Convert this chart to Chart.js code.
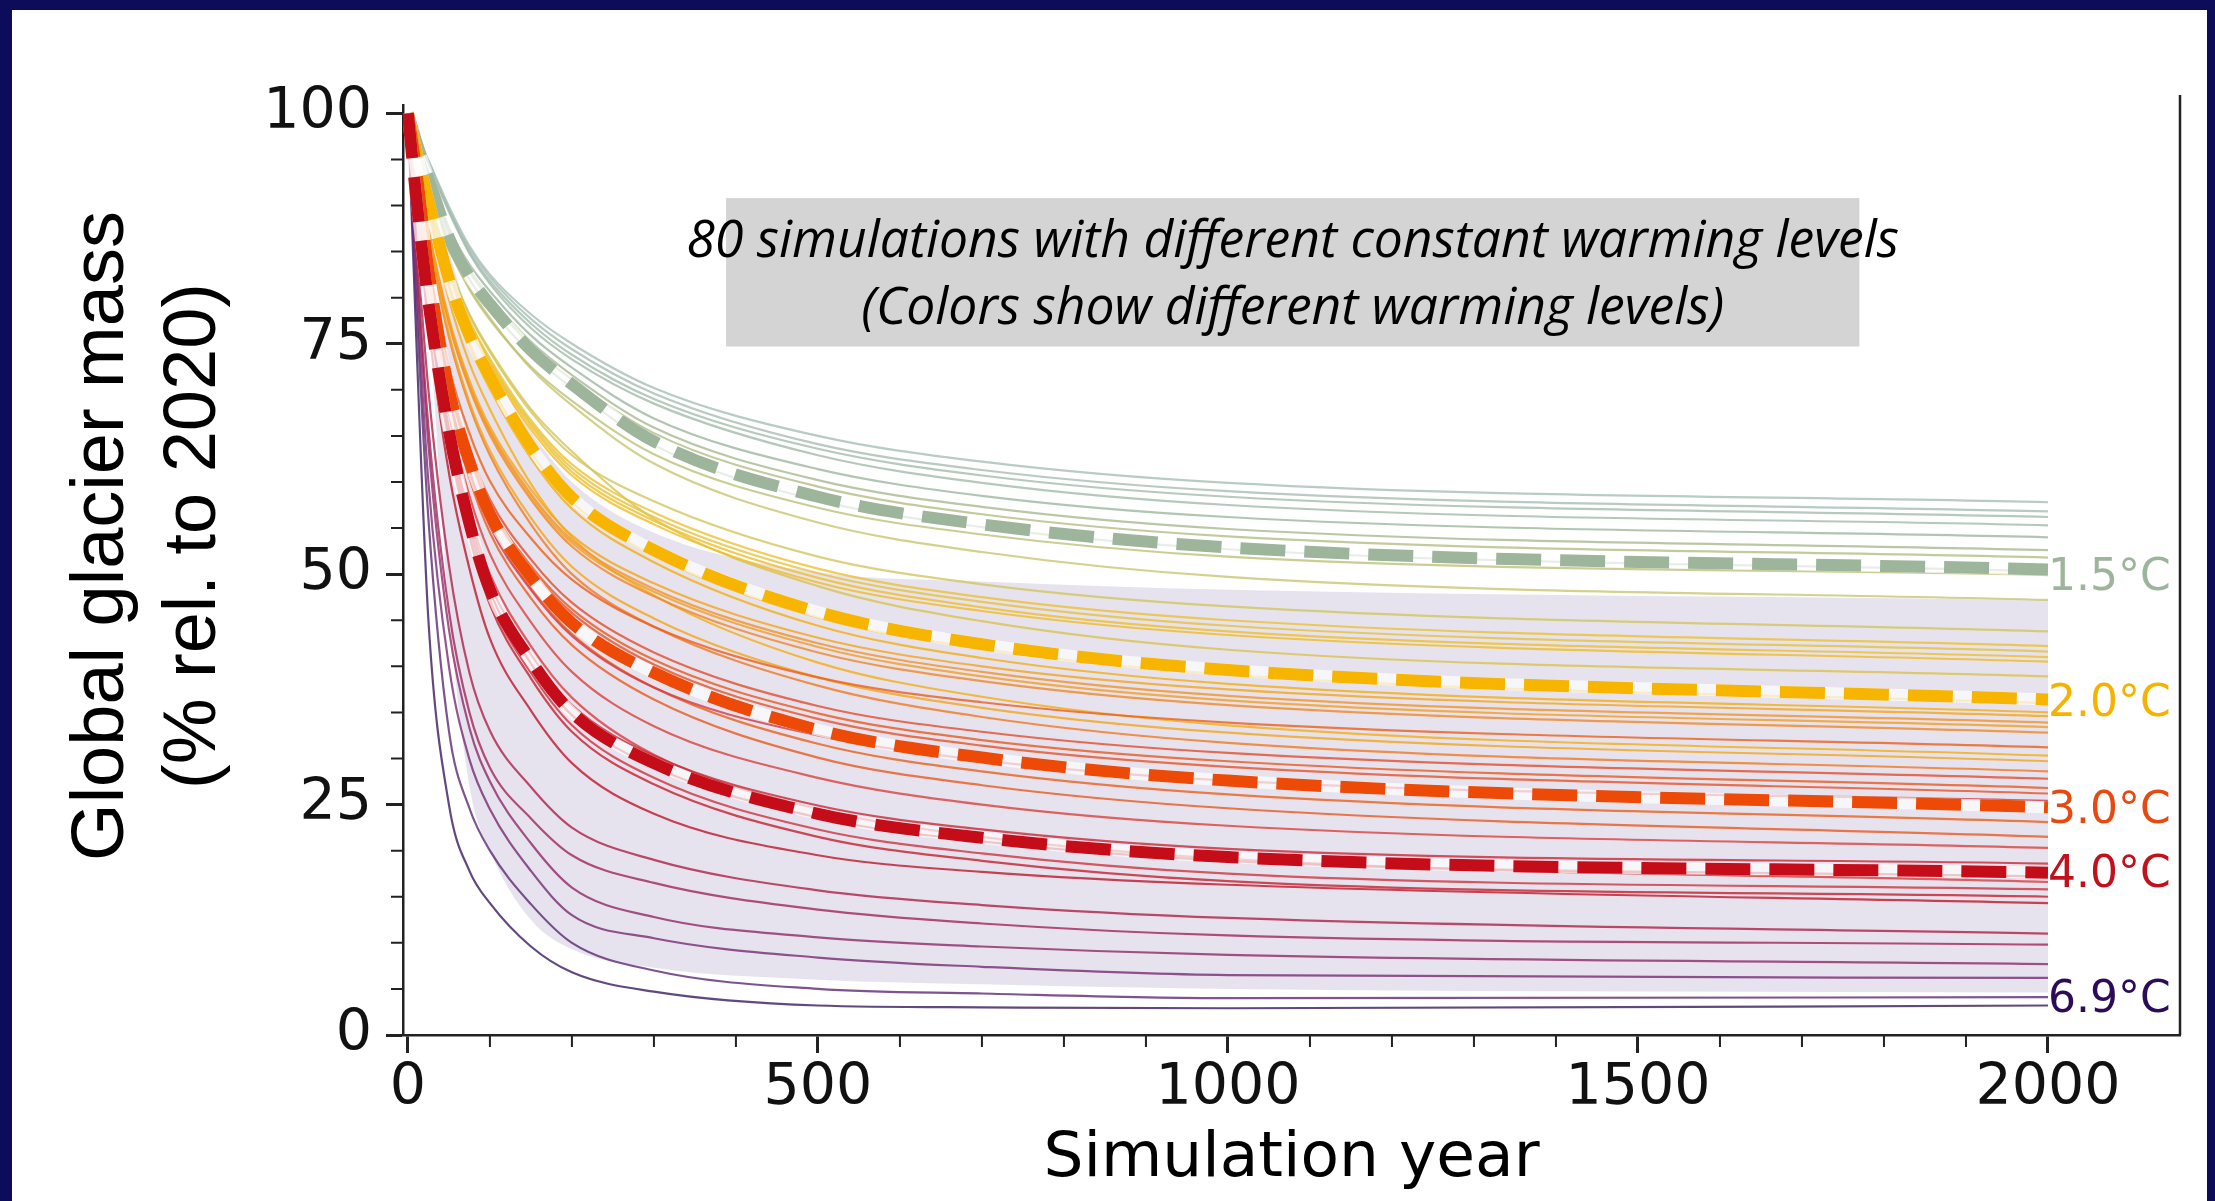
<!DOCTYPE html>
<html>
<head>
<meta charset="utf-8">
<title>Global glacier mass</title>
<script src="https://cdn.jsdelivr.net/npm/chart.js@4.4.0/dist/chart.umd.min.js"></script>
<style>
  html, body { margin: 0; background: #fff; width: 2215px; height: 1201px; overflow: hidden; }
  .bar { position: absolute; background: #0c0c5a; }
  #top { left: 0; top: 0; width: 2215px; height: 10px; }
  #left { left: 0; top: 0; width: 12px; height: 1400px; }
  #right { left: 2207px; top: 0; width: 8px; height: 1400px; }
  #panel { position: absolute; left: 12px; top: 10px; width: 2195px; height: 1191px; }
  canvas { display: block; }
</style>
</head>
<body>
<div class="bar" id="top"></div>
<div class="bar" id="left"></div>
<div class="bar" id="right"></div>
<div id="panel"><canvas id="myChart" width="2195" height="1191"></canvas></div>
<script>
// sample years the curves were read at
const years = [0, 10, 25, 50, 75, 100, 150, 200, 300, 500, 700, 1000, 2000]

// thin lines: warming level of each run and its glacier mass (% of 2020)
const warming = [1.2, 1.25, 1.3, 1.35, 1.45, 1.55, 1.6, 1.5, 1.65, 1.7,
  1.75, 1.9, 1.85, 1.95, 2.0, 1.8, 2.1, 2.2, 2.3, 2.5,
  2.4, 2.6, 2.9, 2.2, 2.3, 2.7, 3.2, 3.0, 3.1, 3.7,
  2.9, 3.0, 3.5, 3.9, 4.1, 3.6, 3.8, 4.0, 4.2, 4.6,
  4.9, 5.3, 5.8, 6.3, 6.9]

const runs = [
  [100, 97.9, 94.9, 89.9, 85.6, 82.5, 78.2, 75.0, 70.2, 65.0, 62.2, 59.9, 57.8],
  [100, 97.8, 94.8, 89.6, 85.3, 82.2, 77.7, 74.4, 69.6, 64.1, 61.3, 59.0, 56.8],
  [100, 97.8, 94.7, 89.5, 85.0, 81.8, 77.2, 73.8, 69.0, 63.6, 60.7, 58.4, 56.2],
  [100, 97.8, 94.6, 89.3, 84.8, 81.5, 76.7, 73.3, 68.5, 62.9, 59.9, 57.5, 55.3],
  [100, 97.2, 93.6, 87.6, 83.6, 80.7, 75.9, 72.4, 66.9, 61.4, 58.5, 56.2, 54.0],
  [100, 97.2, 93.4, 87.2, 83.1, 80.1, 75.2, 71.6, 65.9, 60.2, 57.3, 54.9, 52.6],
  [100, 97.1, 93.3, 87.0, 82.8, 79.8, 74.8, 71.1, 65.3, 59.5, 56.5, 54.1, 51.8],
  [100, 96.8, 92.8, 86.2, 82.0, 78.9, 73.9, 70.2, 64.0, 58.0, 55.1, 52.7, 50.3],
  [100, 96.6, 92.2, 85.4, 80.9, 77.6, 72.5, 68.8, 63.0, 57.2, 54.3, 51.9, 49.9],
  [100, 96.8, 92.6, 85.7, 81.1, 77.8, 72.3, 68.3, 62.0, 55.6, 52.4, 49.7, 47.2],
  [100, 96.3, 91.6, 83.7, 78.1, 74.1, 67.6, 62.9, 57.9, 51.9, 48.9, 46.5, 43.8],
  [100, 96.2, 91.3, 83.2, 77.5, 73.4, 66.7, 61.9, 56.7, 50.6, 47.5, 45.0, 42.2],
  [100, 96.2, 91.2, 83.1, 77.3, 73.1, 66.4, 61.5, 56.2, 50.1, 47.0, 44.4, 41.6],
  [100, 96.2, 91.2, 82.9, 77.1, 72.9, 66.1, 61.1, 55.8, 49.6, 46.4, 43.8, 41.0],
  [100, 96.1, 91.1, 82.7, 76.8, 72.6, 65.7, 60.7, 55.4, 49.1, 46.0, 43.4, 40.5],
  [100, 96.3, 91.4, 83.5, 78.2, 74.3, 67.9, 63.3, 56.0, 48.7, 44.9, 41.8, 38.9],
  [100, 95.8, 90.4, 81.4, 75.1, 70.6, 63.2, 57.8, 52.0, 45.3, 41.9, 39.1, 36.0],
  [100, 95.8, 90.3, 81.2, 74.8, 70.1, 62.6, 57.1, 51.3, 44.4, 40.9, 38.1, 35.0],
  [100, 95.4, 87.6, 77.8, 71.0, 66.0, 59.2, 54.2, 49.0, 43.1, 40.0, 37.5, 34.6],
  [100, 95.4, 87.4, 77.5, 70.6, 65.6, 58.7, 53.7, 48.4, 42.5, 39.4, 36.8, 33.9],
  [100, 95.3, 87.3, 77.4, 70.4, 65.4, 58.4, 53.4, 48.1, 42.1, 38.9, 36.3, 33.4],
  [100, 95.3, 87.2, 77.2, 70.2, 65.1, 58.1, 53.0, 47.6, 41.5, 38.4, 35.8, 32.8],
  [100, 94.5, 84.2, 72.5, 65.3, 60.1, 53.9, 49.4, 44.3, 38.8, 36.1, 33.9, 31.2],
  [100, 95.5, 89.5, 79.8, 72.9, 67.9, 59.8, 54.0, 47.7, 40.4, 36.7, 33.6, 30.3],
  [100, 95.1, 86.6, 76.1, 68.7, 63.4, 56.1, 50.8, 45.2, 38.8, 35.5, 32.8, 29.7],
  [100, 95.0, 86.4, 75.7, 68.3, 62.9, 55.4, 50.0, 44.3, 37.9, 34.5, 31.7, 28.6],
  [100, 94.2, 83.4, 71.1, 63.6, 58.1, 51.6, 46.9, 41.5, 35.7, 32.9, 30.6, 27.8],
  [100, 94.1, 83.2, 70.7, 63.0, 57.5, 50.9, 46.2, 40.7, 34.9, 32.0, 29.7, 26.8],
  [100, 94.1, 83.0, 70.5, 62.8, 57.2, 50.6, 45.8, 40.2, 34.3, 31.4, 29.1, 26.2],
  [100, 92.9, 82.1, 69.4, 61.2, 55.2, 48.3, 43.3, 37.7, 32.5, 29.8, 27.6, 25.4],
  [100, 93.8, 82.3, 69.2, 61.2, 55.4, 48.5, 43.5, 37.7, 31.6, 28.6, 26.1, 23.1],
  [100, 93.7, 81.9, 68.6, 60.4, 54.5, 47.4, 42.3, 36.4, 30.1, 27.1, 24.6, 21.5],
  [100, 92.4, 80.9, 67.3, 58.5, 52.2, 44.8, 39.4, 33.5, 27.9, 25.0, 22.7, 20.3],
  [100, 91.0, 79.7, 65.8, 56.1, 49.0, 41.3, 35.8, 30.3, 24.9, 22.3, 20.2, 18.6],
  [100, 90.9, 79.3, 65.2, 55.3, 48.1, 40.3, 34.7, 29.1, 23.6, 21.0, 18.9, 17.2],
  [100, 92.1, 80.0, 65.8, 56.6, 50.0, 42.2, 36.6, 30.4, 24.5, 21.5, 19.1, 16.6],
  [100, 90.7, 79.0, 64.6, 54.5, 47.2, 39.3, 33.6, 27.9, 22.3, 19.7, 17.5, 15.8],
  [100, 90.7, 78.8, 64.3, 54.1, 46.7, 38.7, 32.9, 27.2, 21.5, 18.9, 16.7, 15.0],
  [100, 90.0, 77.0, 61.0, 50.6, 43.0, 35.2, 29.5, 24.0, 19.5, 17.7, 16.3, 14.3],
  [100, 87.0, 70.0, 51.0, 39.3, 33.0, 26.9, 22.5, 19.0, 15.7, 14.1, 12.7, 11.0],
  [100, 85.0, 66.0, 46.0, 35.0, 29.0, 23.5, 19.5, 16.5, 13.6, 12.1, 10.8, 9.8],
  [100, 84.0, 64.0, 44.0, 33.3, 27.5, 20.8, 16.0, 12.8, 10.6, 9.6, 8.7, 7.7],
  [100, 82.0, 60.0, 40.0, 29.9, 24.5, 17.8, 13.0, 10.5, 8.4, 7.4, 6.5, 6.2],
  [100, 80.0, 56.0, 33.0, 24.6, 20.0, 14.2, 10.0, 7.0, 5.0, 4.5, 4.0, 4.1],
  [100, 76.0, 45.0, 25.0, 17.8, 14.3, 9.6, 6.8, 4.7, 3.2, 3.0, 2.9, 3.2]
]

// thick dashed lines
const dashedNames = ['1.5°C', '2.0°C', '3.0°C', '4.0°C']
const dashed15 = [100, 97.0, 93.0, 86.5, 82.3, 79.3, 74.3, 70.6, 64.4, 58.4, 55.4, 52.9, 50.5]
const dashed20 = [100, 96.0, 90.5, 82.0, 75.9, 71.4, 63.8, 58.3, 52.6, 45.9, 42.4, 39.6, 36.4]
const dashed30 = [100, 94.0, 83.0, 70.0, 62.2, 56.5, 49.7, 44.7, 39.3, 33.1, 30.1, 27.6, 24.7]
const dashed40 = [100, 91.0, 79.5, 65.5, 55.5, 48.3, 40.6, 35.0, 29.5, 24.0, 21.4, 19.3, 17.6]

// shaded range
const bandUpper = [100, 97.0, 93.0, 85.0, 78.0, 73.0, 65.5, 60.0, 54.5, 50.2, 49.2, 48.3, 47.2]
const bandLower = [100, 92.0, 78.0, 46.0, 27.0, 20.0, 12.5, 9.3, 7.3, 6.0, 5.5, 5.0, 4.6]

// labels at the right end of the lines
const endLabels = ['1.5°C', '2.0°C', '3.0°C', '4.0°C', '6.9°C']
const endLabelValues = [49.5, 35.8, 24.2, 17.3, 3.7]

const xTicks = [0, 500, 1000, 1500, 2000]
const yTicks = [0, 25, 50, 75, 100]

const noteLines = ['80 simulations with different constant warming levels', '(Colors show different warming levels)']

const dashedColors = ['#9db59b', '#f7b500', '#ec4a06', '#c40d19']
const endLabelColors = ['#9db59b', '#f5b300', '#e64a10', '#c0111c', '#2c0b58']

// colour scale for the warming level
const cmapStops = [
  [1.2, [168, 190, 182]],
  [1.5, [157, 181, 155]],
  [1.7, [200, 198, 110]],
  [1.9, [238, 192, 50]],
  [2.1, [246, 182, 10]],
  [2.5, [244, 148, 40]],
  [2.9, [238, 95, 25]],
  [3.3, [226, 70, 50]],
  [3.7, [212, 60, 70]],
  [4.1, [196, 22, 35]],
  [4.7, [172, 35, 78]],
  [5.4, [140, 42, 108]],
  [6.1, [105, 45, 120]],
  [6.9, [58, 28, 95]]
]

function warmColor(t, alpha) {
  let c = cmapStops[cmapStops.length - 1][1]
  for (let i = 0; i < cmapStops.length - 1; i++) {
    const a = cmapStops[i], b = cmapStops[i + 1]
    if (t <= a[0]) { c = a[1]; break }
    if (t <= b[0]) {
      const f = (t - a[0]) / (b[0] - a[0])
      c = a[1].map((v, k) => Math.round(v + (b[1][k] - v) * f))
      break
    }
  }
  return 'rgba(' + c[0] + ',' + c[1] + ',' + c[2] + ',' + alpha + ')'
}

function toPoints(values) {
  return years.map((x, i) => ({x: x, y: values[i]}))
}

const datasets = []

// band first so that fill '+1' points at its lower edge
datasets.push({data: toPoints(bandUpper), borderColor: 'transparent', borderWidth: 0,
  backgroundColor: 'rgba(205,200,224,0.5)', fill: '+1', order: 1000})
datasets.push({data: toPoints(bandLower), borderColor: 'transparent', borderWidth: 0,
  fill: false, order: 1000})

for (let i = 0; i < runs.length; i++) {
  datasets.push({
    data: toPoints(runs[i]),
    borderColor: warmColor(warming[i], 0.8),
    borderWidth: 2.2,
    fill: false,
    order: 500
  })
}

const dashedRuns = [dashed15, dashed20, dashed30, dashed40]
dashedRuns.forEach(function(vals, k) {
  // white line under the dashes so that the gaps look light
  datasets.push({data: toPoints(vals), borderColor: 'rgba(255,255,255,0.7)', borderWidth: 12,
    fill: false, order: 40 - 2 * k})
  datasets.push({label: dashedNames[k], data: toPoints(vals), borderColor: dashedColors[k], borderWidth: 12,
    borderDash: [45, 19], borderCapStyle: 'butt', fill: false, order: 39 - 2 * k})
})

const overlay = {
  id: 'overlay',
  afterDraw(chart) {
    const ctx = chart.ctx
    const area = chart.chartArea
    const xs = chart.scales.x
    const ys = chart.scales.y
    ctx.save()

    // right spine
    ctx.strokeStyle = '#222'
    ctx.lineWidth = 2.5
    ctx.beginPath()
    ctx.moveTo(area.right, area.top - 10)
    ctx.lineTo(area.right, area.bottom)
    ctx.stroke()

    // minor ticks
    ctx.lineWidth = 2
    ctx.beginPath()
    for (let v = 5; v < 100; v += 5) {
      if (v % 25 === 0) continue
      const y = ys.getPixelForValue(v)
      ctx.moveTo(area.left - 12, y)
      ctx.lineTo(area.left, y)
    }
    for (let v = 100; v < 2000; v += 100) {
      if (v % 500 === 0) continue
      const x = xs.getPixelForValue(v)
      ctx.moveTo(x, area.bottom)
      ctx.lineTo(x, area.bottom + 12)
    }
    ctx.stroke()

    // note box
    const bx1 = xs.getPixelForValue(388), bx2 = xs.getPixelForValue(1770)
    const by1 = ys.getPixelForValue(90.8), by2 = ys.getPixelForValue(74.7)
    ctx.fillStyle = '#d4d4d4'
    ctx.fillRect(bx1, by1, bx2 - bx1, by2 - by1)
    ctx.fillStyle = '#000'
    ctx.font = 'italic 50px "Open Sans"'
    const size = 50 * 1212 / ctx.measureText(noteLines[0]).width
    ctx.font = 'italic ' + size.toFixed(1) + 'px "Open Sans"'
    ctx.textAlign = 'center'
    ctx.textBaseline = 'alphabetic'
    const cx = xs.getPixelForValue(1079)
    ctx.fillText(noteLines[0], cx, ys.getPixelForValue(84.4))
    ctx.fillText(noteLines[1], cx, ys.getPixelForValue(77.1))

    // labels at line ends
    ctx.font = '44px "DejaVu Sans"'
    ctx.textAlign = 'left'
    ctx.textBaseline = 'middle'
    const lx = xs.getPixelForValue(2000)
    for (let i = 0; i < endLabels.length; i++) {
      ctx.fillStyle = endLabelColors[i]
      ctx.fillText(endLabels[i], lx, ys.getPixelForValue(endLabelValues[i]))
    }

    // axis titles
    ctx.fillStyle = '#000'
    ctx.font = '63px "DejaVu Sans"'
    ctx.textAlign = 'center'
    ctx.textBaseline = 'alphabetic'
    ctx.fillText('Simulation year', (area.left + area.right) / 2, 1166)

    ctx.translate(0, 526)
    ctx.rotate(-Math.PI / 2)
    ctx.font = '74px "Liberation Sans"'
    ctx.fillText('Global glacier mass', 0, 111)
    ctx.fillText('(% rel. to 2020)', 0, 203)
    ctx.restore()
  }
}

const config = {
  type: 'line',
  data: {datasets: datasets},
  options: {
    responsive: false,
    animation: false,
    events: [],
    layout: {padding: {top: 95, right: 27, left: 0, bottom: 0}},
    elements: {
      point: {radius: 0, hitRadius: 0},
      line: {cubicInterpolationMode: 'monotone'}
    },
    plugins: {legend: {display: false}, tooltip: {enabled: false}},
    scales: {
      x: {
        type: 'linear',
        min: -6,
        max: 2161,
        afterFit: function(scale) { scale.height = 166 },
        afterBuildTicks: function(scale) { scale.ticks = xTicks.map(v => ({value: v})) },
        border: {display: true, color: '#222', width: 2.5},
        grid: {drawOnChartArea: false, drawTicks: true, tickLength: 18, tickWidth: 3, tickColor: '#222'},
        ticks: {color: '#111', padding: 2, maxRotation: 0, font: {family: 'DejaVu Sans', size: 57},
          callback: function(value) { return String(value) }}
      },
      y: {
        min: 0,
        max: 100.9,
        afterFit: function(scale) { scale.width = 391 },
        afterBuildTicks: function(scale) { scale.ticks = yTicks.map(v => ({value: v})) },
        border: {display: true, color: '#222', width: 2.5},
        grid: {drawOnChartArea: false, drawTicks: true, tickLength: 17, tickWidth: 3, tickColor: '#222'},
        ticks: {color: '#111', padding: 14, font: {family: 'DejaVu Sans', size: 57},
          callback: function(value) { return String(value) }}
      }
    }
  },
  plugins: [overlay]
}

const myChart = new Chart(document.getElementById('myChart').getContext('2d'), config)
</script>
</body>
</html>
